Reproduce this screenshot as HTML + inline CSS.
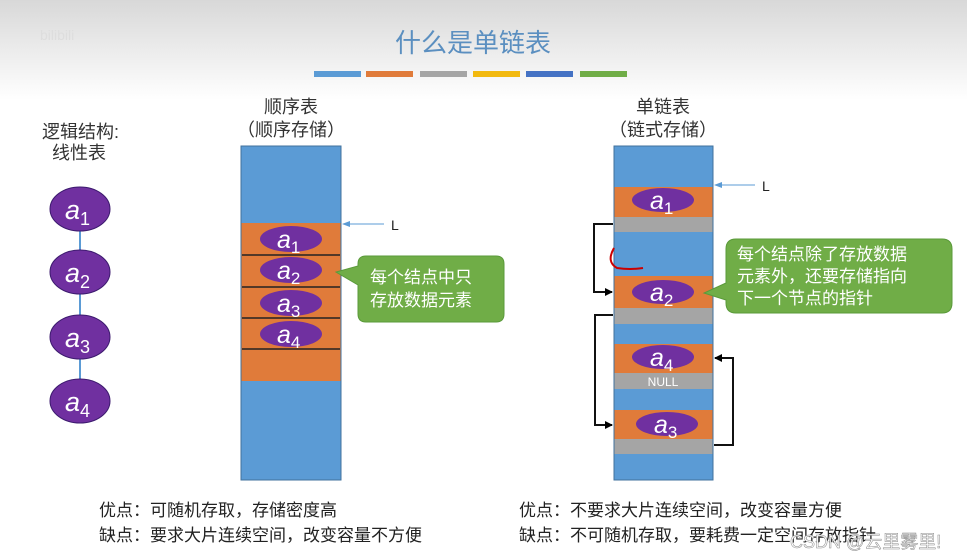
<!DOCTYPE html>
<html><head><meta charset="utf-8"><style>
body{margin:0;width:967px;height:559px;overflow:hidden;background:#fff}
svg{display:block}
text{font-family:"Liberation Sans","Noto Sans CJK SC",sans-serif}
</style></head><body>
<svg width="967" height="559" viewBox="0 0 967 559">
<defs>
<linearGradient id="bg" x1="0" y1="0" x2="0" y2="1"><stop offset="0" stop-color="#d8d8d8"/><stop offset="1" stop-color="#ffffff"/></linearGradient>
<marker id="ah" markerWidth="8" markerHeight="8" refX="7" refY="4" orient="auto" markerUnits="userSpaceOnUse"><path d="M0,0 L8,4 L0,8 z" fill="#000"/></marker>
<marker id="ab" markerWidth="8" markerHeight="8" refX="7" refY="4" orient="auto" markerUnits="userSpaceOnUse"><path d="M0,1 L8,4 L0,7 z" fill="#5b9bd5"/></marker>
</defs>
<rect width="967" height="100" fill="url(#bg)"/>
<text x="473" y="52" font-size="26" fill="#5b8fc0" text-anchor="middle" font-family="Noto Sans CJK SC">什么是单链表</text>
<rect x="314" y="71" width="47" height="6" fill="#5b9bd5"/>
<rect x="366" y="71" width="47" height="6" fill="#e07b3a"/>
<rect x="420" y="71" width="47" height="6" fill="#a5a5a5"/>
<rect x="473" y="71" width="47" height="6" fill="#f2b90f"/>
<rect x="526" y="71" width="47" height="6" fill="#4472c4"/>
<rect x="580" y="71" width="47" height="6" fill="#70ad47"/>
<text x="40" y="40" font-size="14" fill="#ddd">bilibili</text>

<g font-size="18" fill="#333">
<text x="42" y="138">逻辑结构:</text>
<text x="52" y="159">线性表</text>
<text x="291" y="113" text-anchor="middle">顺序表</text>
<text x="291" y="136" text-anchor="middle">（顺序存储）</text>
<text x="663" y="113" text-anchor="middle">单链表</text>
<text x="663" y="136" text-anchor="middle">（链式存储）</text>
</g>

<line x1="80" y1="209" x2="80" y2="401" stroke="#5b9bd5" stroke-width="2"/>
<g fill="#7030a0" stroke="#3c1a6e" stroke-width="1">
<ellipse cx="80" cy="209" rx="30" ry="22"/><ellipse cx="80" cy="272" rx="30" ry="22"/>
<ellipse cx="80" cy="337" rx="30" ry="22"/><ellipse cx="80" cy="401" rx="30" ry="22"/>
</g>
<g fill="#fff" font-style="italic" font-size="27">
<text x="65" y="219">a<tspan font-size="18" font-style="normal" dy="6">1</tspan></text>
<text x="65" y="282">a<tspan font-size="18" font-style="normal" dy="6">2</tspan></text>
<text x="65" y="347">a<tspan font-size="18" font-style="normal" dy="6">3</tspan></text>
<text x="65" y="411">a<tspan font-size="18" font-style="normal" dy="6">4</tspan></text>
</g>

<rect x="241" y="146" width="100" height="334" fill="#5b9bd5" stroke="#41719c"/>
<rect x="241.5" y="223" width="99" height="158" fill="#e07b3a"/>
<g stroke="#222" stroke-width="1.5"><line x1="242" y1="255" x2="340" y2="255"/><line x1="242" y1="287" x2="340" y2="287"/><line x1="242" y1="318" x2="340" y2="318"/><line x1="242" y1="349" x2="340" y2="349"/></g>
<g fill="#7030a0"><ellipse cx="291" cy="239" rx="31" ry="13"/><ellipse cx="291" cy="270" rx="31" ry="13"/><ellipse cx="291" cy="303" rx="31" ry="13"/><ellipse cx="291" cy="334" rx="31" ry="13"/></g>
<g fill="#fff" font-style="italic" font-size="25">
<text x="277" y="248">a<tspan font-size="17" font-style="normal" dy="5">1</tspan></text>
<text x="277" y="279">a<tspan font-size="17" font-style="normal" dy="5">2</tspan></text>
<text x="277" y="312">a<tspan font-size="17" font-style="normal" dy="5">3</tspan></text>
<text x="277" y="343">a<tspan font-size="17" font-style="normal" dy="5">4</tspan></text>
</g>
<line x1="384" y1="224" x2="343" y2="224" stroke="#5b9bd5" marker-end="url(#ab)"/>
<text x="391" y="230" font-size="14" fill="#222">L</text>
<path d="M366,256 H496 Q504,256 504,264 V314 Q504,322 496,322 H366 Q358,322 358,314 V285 L336,272 L358,266 V264 Q358,256 366,256 Z" fill="#70ad47" stroke="#5a9a3a"/>
<g fill="#fff" font-size="17"><text x="370" y="283">每个结点中只</text><text x="370" y="306">存放数据元素</text></g>

<rect x="614" y="146" width="99" height="334" fill="#5b9bd5" stroke="#41719c"/>
<g fill="#e07b3a"><rect x="614.5" y="187" width="98" height="30"/><rect x="614.5" y="276" width="98" height="32"/><rect x="614.5" y="344" width="98" height="29"/><rect x="614.5" y="410" width="98" height="29"/></g>
<g fill="#a5a5a5"><rect x="614.5" y="217" width="98" height="15"/><rect x="614.5" y="308" width="98" height="16"/><rect x="614.5" y="373" width="98" height="16"/><rect x="614.5" y="439" width="98" height="15"/></g>
<g fill="#7030a0"><ellipse cx="663" cy="200" rx="31" ry="12"/><ellipse cx="663" cy="292" rx="31" ry="12"/><ellipse cx="663" cy="357" rx="31" ry="12"/><ellipse cx="667" cy="424" rx="31" ry="12"/></g>
<g fill="#fff" font-style="italic" font-size="25">
<text x="650" y="209">a<tspan font-size="17" font-style="normal" dy="5">1</tspan></text>
<text x="650" y="301">a<tspan font-size="17" font-style="normal" dy="5">2</tspan></text>
<text x="650" y="366">a<tspan font-size="17" font-style="normal" dy="5">4</tspan></text>
<text x="654" y="433">a<tspan font-size="17" font-style="normal" dy="5">3</tspan></text>
</g>
<text x="663" y="386" font-size="12" fill="#fff" text-anchor="middle">NULL</text>
<line x1="755" y1="185" x2="715" y2="185" stroke="#5b9bd5" marker-end="url(#ab)"/>
<text x="762" y="191" font-size="14" fill="#222">L</text>
<g fill="none" stroke="#111" stroke-width="2">
<path d="M613,224 H594 V292 H612" marker-end="url(#ah)"/>
<path d="M613,315 H595 V425 H612" marker-end="url(#ah)"/>
<path d="M714,445 H733 V358 H715" marker-end="url(#ah)"/>
</g>
<path d="M614,248 Q606,262 617,268 Q630,270 643,268" fill="none" stroke="#c00" stroke-width="2"/>
<path d="M736,239 H942 Q952,239 952,249 V303 Q952,313 942,313 H736 Q726,313 726,303 V300 L704,293 L726,283 V249 Q726,239 736,239 Z" fill="#70ad47" stroke="#5a9a3a"/>
<g fill="#fff" font-size="17"><text x="737" y="260">每个结点除了存放数据</text><text x="737" y="282">元素外，还要存储指向</text><text x="737" y="304">下一个节点的指针</text></g>

<g font-size="17" fill="#222">
<text x="99" y="516">优点：可随机存取，存储密度高</text>
<text x="99" y="541">缺点：要求大片连续空间，改变容量不方便</text>
<text x="519" y="516">优点：不要求大片连续空间，改变容量方便</text>
<text x="519" y="541">缺点：不可随机存取，要耗费一定空间存放指针</text>
</g>
<text x="790" y="548" font-size="18" fill="#fff" stroke="#888" stroke-width="0.5">CSDN @云里雾里!</text>
</svg>
</body></html>
